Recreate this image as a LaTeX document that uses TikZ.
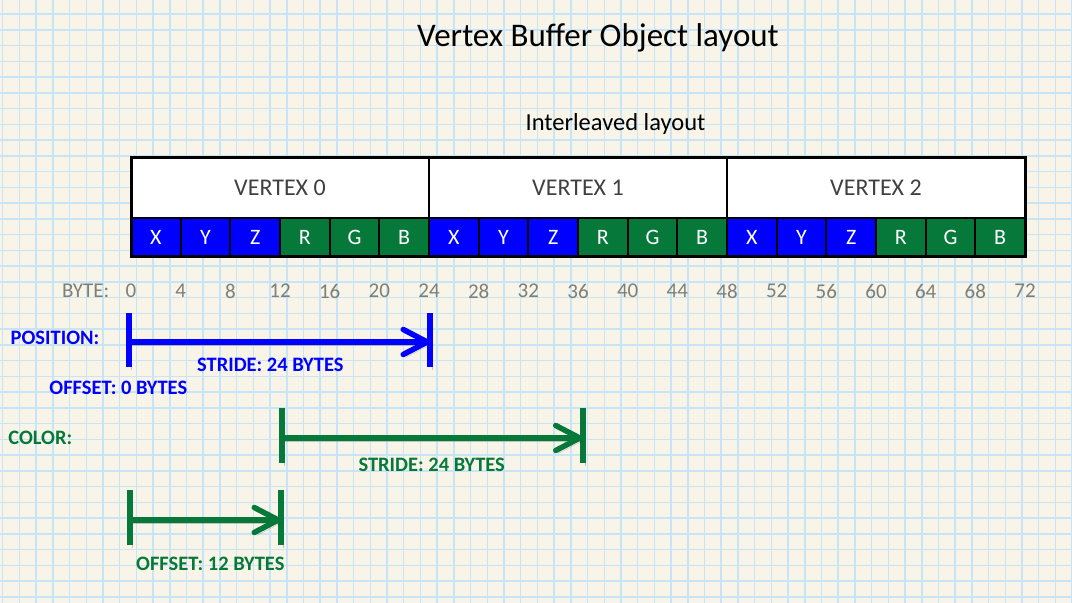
\documentclass[tikz,border=0pt]{standalone}
\usepackage{fontspec}
\setmainfont{Carlito}
\usepackage{tikz}
\usetikzlibrary{positioning}
\usetikzlibrary{arrows.meta}

\definecolor{paper}{HTML}{F8F4E8}
\definecolor{gridblue}{HTML}{C8E4F7}
\definecolor{posblue}{HTML}{0000FF}
\definecolor{colgreen}{HTML}{05783A}
\definecolor{bytegray}{HTML}{7D7F78}
\definecolor{vtxgray}{HTML}{404040}

\tikzstyle{gridline} = [gridblue, line width=1.5pt]
\tikzstyle{vbox} = [draw, line width=2.5pt, fill=white, outer sep=0pt, minimum width=298pt, minimum height=61pt, text=vtxgray, font=\fontsize{24}{28}\selectfont]
\tikzstyle{cell} = [draw, line width=2.2pt, outer sep=0pt, minimum width=49.667pt, minimum height=38pt, text=white, font=\fontsize{22}{26}\selectfont]
\tikzstyle{bytelbl} = [inner sep=0pt, text=bytegray, font=\fontsize{21}{25}\selectfont]
\tikzstyle{lbl} = [inner sep=0pt, font=\bfseries\fontsize{20.5}{24}\selectfont]
\tikzstyle{shadowed} = [preaction={draw=black, opacity=0.2, transform canvas={shift={(2.5pt,-3pt)}}}]
\tikzstyle{arrow} = [line width=5.5pt, -{Straight Barb[length=24pt,width=25pt,round]}, shadowed]
\tikzstyle{bar} = [line width=6pt, shadowed]

\begin{document}
\begin{tikzpicture}[x=1pt,y=-1pt]
	\useasboundingbox (0,0) rectangle (1072,603);
	\fill[paper] (0,0) rectangle (1072,603);
	
	%Grid paper
	\foreach \k in {0,...,64}
		\draw[gridline] ({2.7+16.71*\k},0) -- ({2.7+16.71*\k},603);
	\foreach \k in {0,...,37}
		\draw[gridline] (0,{14+15.75*\k}) -- (1072,{14+15.75*\k});
	
	%Titles
	\node[anchor=base, font=\fontsize{33}{39}\selectfont] (title) at (598,46) {Vertex Buffer Object layout};
	\node[anchor=base, font=\fontsize{24.5}{29}\selectfont] (sub) at (615.5,130) {Interleaved layout};
	
	%Vertices
	\node[vbox] (v0) at (280,187.5) {VERTEX 0};
	\node[vbox, right=0pt of v0] (v1) {VERTEX 1};
	\node[vbox, right=0pt of v1] (v2) {VERTEX 2};
	
	%Components
	\foreach \l [count=\i from 0] in {X,Y,Z,R,G,B,X,Y,Z,R,G,B,X,Y,Z,R,G,B}{
		\pgfmathtruncatemacro{\k}{mod(\i,6)}
		\ifnum\k<3 \def\cfill{posblue}\else \def\cfill{colgreen}\fi
		\node[cell, fill=\cfill, anchor=north west] (c\i) at ([xshift=\i*49.667pt]v0.south west) {\l};
	}
	\draw[line width=3pt] (v0.north west) rectangle (c17.south east);
	
	%Bytes
	\foreach \b in {0,4,...,72}
		\node[bytelbl] (b\b) at ({131+\b*12.4167},291) {\b};
	\node[bytelbl, left=16pt of b0] (bytehdr) {BYTE:};
	
	%Position
	\coordinate (ps) at (129,342);
	\coordinate (pe) at (430,342);
	\draw[bar, posblue] (ps) ++(0,-29) -- ++(0,54);
	\draw[bar, posblue] (pe) ++(0,-29) -- ++(0,54);
	\draw[arrow, posblue] (ps) -- (pe);
	\node[lbl, text=posblue] (poslbl) at (55,338) {POSITION:};
	\node[lbl, text=posblue] (posstride) at (270.3,364.7) {STRIDE: 24 BYTES};
	\node[lbl, text=posblue] (posoffset) at (118.3,388.3) {OFFSET: 0 BYTES};
	
	%Color
	\coordinate (cs) at (282,438);
	\coordinate (ce) at (582.5,438);
	\draw[bar, colgreen] (cs) ++(0,-30) -- ++(0,55);
	\draw[bar, colgreen] (ce) ++(0,-30) -- ++(0,55);
	\draw[arrow, colgreen] (cs) -- (ce);
	\node[lbl, text=colgreen] (collbl) at (40.3,437.8) {COLOR:};
	\node[lbl, text=colgreen] (colstride) at (431.7,465) {STRIDE: 24 BYTES};
	
	\coordinate (os) at (130,520);
	\coordinate (oe) at (281,520);
	\draw[bar, colgreen] (os) ++(0,-30) -- ++(0,55);
	\draw[bar, colgreen] (oe) ++(0,-30) -- ++(0,55);
	\draw[arrow, colgreen] (os) -- (oe);
	\node[lbl, text=colgreen] (coloffset) at (210.3,564.2) {OFFSET: 12 BYTES};
	
\end{tikzpicture}
\end{document}
